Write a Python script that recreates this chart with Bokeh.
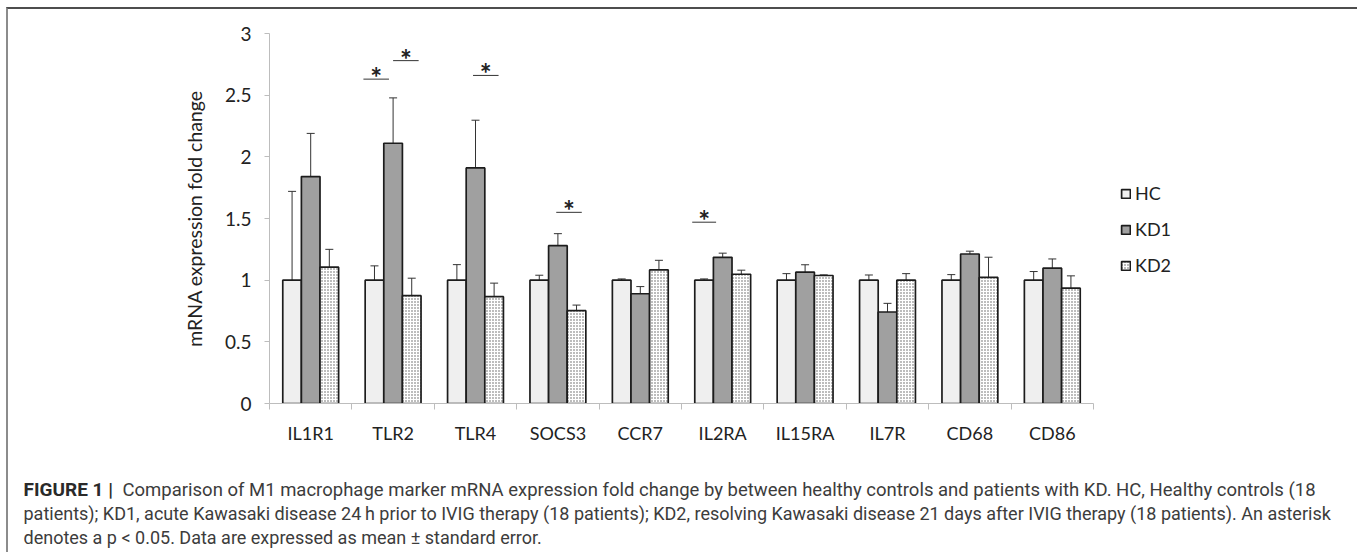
from bokeh.plotting import figure
from bokeh.layouts import column
from bokeh.models import (FactorRange, Range1d, ColumnDataSource, Whisker, TeeHead,
                          LinearAxis, FixedTicker, SingleIntervalTicker,
                          NumeralTickFormatter, Legend, LegendItem, Label)
from bokeh.transform import dodge
from bokeh.core.properties import value
from bokeh.embed import file_html
from bokeh.resources import INLINE

# ---------------- data ----------------
genes = ["IL1R1", "TLR2", "TLR4", "SOCS3", "CCR7", "IL2RA", "IL15RA", "IL7R", "CD68", "CD86"]
series = ["HC", "KD1", "KD2"]
hc = [1.0, 1.0, 1.0, 1.0, 1.0, 1.0, 1.0, 1.0, 1.0, 1.0]
hc_err = [0.72, 0.116, 0.126, 0.04, 0.01, 0.01, 0.053, 0.042, 0.045, 0.07]
kd1 = [1.84, 2.11, 1.91, 1.28, 0.89, 1.185, 1.065, 0.742, 1.212, 1.097]
kd1_err = [0.35, 0.368, 0.387, 0.097, 0.058, 0.034, 0.06, 0.07, 0.023, 0.075]
kd2 = [1.105, 0.874, 0.866, 0.753, 1.083, 1.048, 1.038, 1.0, 1.022, 0.935]
kd2_err = [0.145, 0.142, 0.11, 0.045, 0.078, 0.033, 0.005, 0.053, 0.164, 0.1]

# significance markers (gene, bracket start/end offset within the category, height)
sig_gene = ["TLR2", "TLR2", "TLR4", "SOCS3", "IL2RA"]
sig_off0 = [-0.36, 0.0, -0.03, -0.02, -0.37]
sig_off1 = [-0.05, 0.31, 0.28, 0.29, -0.08]
sig_y = [2.63, 2.78, 2.66, 1.55, 1.47]

caption_bold = "FIGURE 1 |"
caption_l1 = "Comparison of M1 macrophage marker mRNA expression fold change by between healthy controls and patients with KD. HC, Healthy controls (18"
caption_l2 = "patients); KD1, acute Kawasaki disease 24\u2009h prior to IVIG therapy (18 patients); KD2, resolving Kawasaki disease 21 days after IVIG therapy (18 patients). An asterisk"
caption_l3 = "denotes a p < 0.05. Data are expressed as mean \u00b1 standard error."

# ---------------- sources ----------------
src = ColumnDataSource(dict(
    gene=genes, hc=hc, kd1=kd1, kd2=kd2,
    hc_up=[v + e for v, e in zip(hc, hc_err)], hc_lo=[v - e for v, e in zip(hc, hc_err)],
    kd1_up=[v + e for v, e in zip(kd1, kd1_err)], kd1_lo=[v - e for v, e in zip(kd1, kd1_err)],
    kd2_up=[v + e for v, e in zip(kd2, kd2_err)], kd2_lo=[v - e for v, e in zip(kd2, kd2_err)],
))

FONT = "Lato"
AX = "#bdbdbd"
TXT = "#222222"

p = figure(x_range=FactorRange(*genes), y_range=Range1d(0, 3),
           frame_width=824, frame_height=370,
           min_border_left=261, min_border_right=260, min_border_top=24, min_border_bottom=55,
           x_axis_location=None, output_backend="svg", toolbar_location=None,
           background_fill_color="white", border_fill_color="white")
p.frame_align = False
p.outline_line_color = None
p.xgrid.visible = False
p.ygrid.visible = False

# y axis
ya = p.yaxis[0]
ya.ticker = SingleIntervalTicker(interval=0.5)
ya.formatter = NumeralTickFormatter(format="0.[0]")
ya.axis_line_color = AX
ya.major_tick_line_color = AX
ya.major_tick_out = 5
ya.major_tick_in = 0
ya.minor_tick_line_color = None
ya.major_label_text_font = FONT
ya.major_label_text_font_size = "19px"
ya.major_label_text_color = TXT
ya.major_label_standoff = 13
ya.axis_label = "mRNA expression fold change"
ya.axis_label_text_font = FONT
ya.axis_label_text_font_style = "normal"
ya.axis_label_text_font_size = "19.5px"
ya.axis_label_text_color = TXT
ya.axis_label_standoff = 16

# x axis: labels at category centres, small ticks between categories
xa = LinearAxis(ticker=FixedTicker(ticks=[i + 0.5 for i in range(len(genes))],
                                   minor_ticks=list(range(len(genes) + 1))),
                major_label_overrides={i + 0.5: g for i, g in enumerate(genes)},
                major_label_text_font=FONT, major_label_text_font_size="18px",
                major_label_text_color=TXT, major_label_standoff=12,
                axis_line_color=AX, major_tick_line_color=None,
                minor_tick_line_color=AX, minor_tick_out=6, minor_tick_in=0)
p.add_layout(xa, "below")

W = 0.226
r_hc = p.vbar(x=dodge("gene", -W, range=p.x_range), top="hc", width=W, source=src,
              fill_color="#efefef", line_color="#1c1c1c", line_width=1.7)
r_kd1 = p.vbar(x=dodge("gene", 0, range=p.x_range), top="kd1", width=W, source=src,
               fill_color="#a0a0a0", line_color="#1c1c1c", line_width=1.7)
r_kd2 = p.vbar(x=dodge("gene", W, range=p.x_range), top="kd2", width=W, source=src,
               fill_color="white", line_color="#1c1c1c", line_width=1.7,
               hatch_pattern="dot", hatch_scale=3, hatch_weight=1, hatch_color="#5a5a5a")

for key, off in (("hc", -W), ("kd1", 0), ("kd2", W)):
    wk = Whisker(source=src, base=dodge("gene", off, range=p.x_range),
                 upper=key + "_up", lower=key + "_lo",
                 line_color="#333333", line_width=1,
                 upper_head=TeeHead(size=8, line_color="#333333", line_width=1),
                 lower_head=TeeHead(size=8, line_color="#333333", line_width=1))
    p.add_layout(wk)

# significance brackets and asterisks
sig_src = ColumnDataSource(dict(
    x0=[[g, o] for g, o in zip(sig_gene, sig_off0)],
    x1=[[g, o] for g, o in zip(sig_gene, sig_off1)],
    xm=[[g, (a + b) / 2] for g, a, b in zip(sig_gene, sig_off0, sig_off1)],
    y=sig_y,
))
p.segment(x0="x0", x1="x1", y0="y", y1="y", source=sig_src, line_color="#333333", line_width=1)
p.text(x="xm", y="y", text=value("*"), source=sig_src, text_font=value(FONT),
       text_font_style="bold", text_font_size="28px", text_align="center",
       text_baseline="alphabetic", y_offset=-2, text_color=TXT)

# legend (right panel)
legend = Legend(items=[LegendItem(label=series[0], renderers=[r_hc]),
                       LegendItem(label=series[1], renderers=[r_kd1]),
                       LegendItem(label=series[2], renderers=[r_kd2])],
                location=(27, 127), orientation="vertical",
                glyph_width=11, glyph_height=11, label_height=20, label_standoff=4,
                label_text_font=FONT, label_text_font_size="18px", label_text_color=TXT,
                spacing=14, padding=0, margin=0, border_line_color=None,
                background_fill_alpha=0)
p.add_layout(legend, "right")

# caption panel
cap = figure(width=1345, height=94, x_range=Range1d(0, 1345), y_range=Range1d(0, 94),
             min_border=0, output_backend="svg", toolbar_location=None,
             x_axis_location=None, y_axis_location=None)
cap.frame_align = False
cap.outline_line_color = None
cap.grid.visible = False
CF = "Roboto"
base_y = [63, 39, 15]
cap.add_layout(Label(x=15, y=base_y[0], text=caption_bold, text_font=CF, text_font_style="bold",
                     text_font_size="19px", text_color="#2a2a2a", text_baseline="alphabetic"))
cap.add_layout(Label(x=114, y=base_y[0], text=caption_l1, text_font=CF, text_font_size="18.5px",
                     text_color="#3c3c3c", text_baseline="alphabetic"))
cap.add_layout(Label(x=15, y=base_y[1], text=caption_l2, text_font=CF, text_font_size="18px",
                     text_color="#3c3c3c", text_baseline="alphabetic"))
cap.add_layout(Label(x=15, y=base_y[2], text=caption_l3, text_font=CF, text_font_size="18px",
                     text_color="#3c3c3c", text_baseline="alphabetic"))

layout = column(p, cap, spacing=0,
                styles={"margin-left": "6px", "margin-top": "7px",
                        "border-top": "2px solid #4d4d4d",
                        "border-left": "2px solid #8c8c8c",
                        "border-right": "2px solid #8c8c8c"})

open("out.html", "w").write(file_html(layout, INLINE))
